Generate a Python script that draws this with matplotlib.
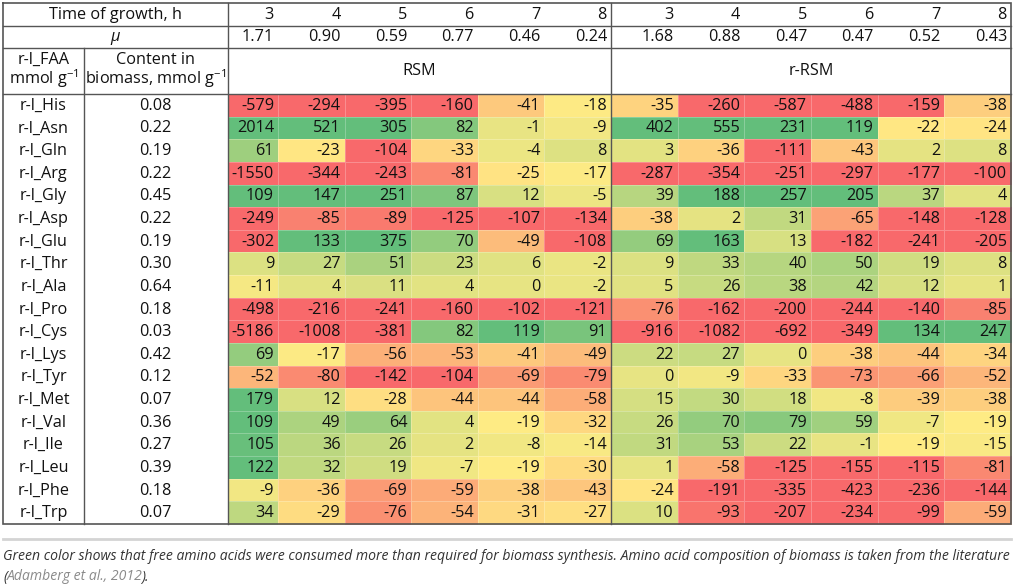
import numpy as np
import matplotlib
matplotlib.use("Agg")
import matplotlib.pyplot as plt
from matplotlib.colors import LinearSegmentedColormap, TwoSlopeNorm

# ---------------- data ----------------
hours = [3, 4, 5, 6, 7, 8]
mu_rsm = ["1.71", "0.90", "0.59", "0.77", "0.46", "0.24"]
mu_rrsm = ["1.68", "0.88", "0.47", "0.47", "0.52", "0.43"]
amino = ["His", "Asn", "Gln", "Arg", "Gly", "Asp", "Glu", "Thr", "Ala", "Pro",
         "Cys", "Lys", "Tyr", "Met", "Val", "Ile", "Leu", "Phe", "Trp"]
content = ["0.08", "0.22", "0.19", "0.22", "0.45", "0.22", "0.19", "0.30", "0.64", "0.18",
           "0.03", "0.42", "0.12", "0.07", "0.36", "0.27", "0.39", "0.18", "0.07"]
rsm = [
    [-579, -294, -395, -160, -41, -18],
    [2014, 521, 305, 82, -1, -9],
    [61, -23, -104, -33, -4, 8],
    [-1550, -344, -243, -81, -25, -17],
    [109, 147, 251, 87, 12, -5],
    [-249, -85, -89, -125, -107, -134],
    [-302, 133, 375, 70, -49, -108],
    [9, 27, 51, 23, 6, -2],
    [-11, 4, 11, 4, 0, -2],
    [-498, -216, -241, -160, -102, -121],
    [-5186, -1008, -381, 82, 119, 91],
    [69, -17, -56, -53, -41, -49],
    [-52, -80, -142, -104, -69, -79],
    [179, 12, -28, -44, -44, -58],
    [109, 49, 64, 4, -19, -32],
    [105, 36, 26, 2, -8, -14],
    [122, 32, 19, -7, -19, -30],
    [-9, -36, -69, -59, -38, -43],
    [34, -29, -76, -54, -31, -27],
]
rrsm = [
    [-35, -260, -587, -488, -159, -38],
    [402, 555, 231, 119, -22, -24],
    [3, -36, -111, -43, 2, 8],
    [-287, -354, -251, -297, -177, -100],
    [39, 188, 257, 205, 37, 4],
    [-38, 2, 31, -65, -148, -128],
    [69, 163, 13, -182, -241, -205],
    [9, 33, 40, 50, 19, 8],
    [5, 26, 38, 42, 12, 1],
    [-76, -162, -200, -244, -140, -85],
    [-916, -1082, -692, -349, 134, 247],
    [22, 27, 0, -38, -44, -34],
    [0, -9, -33, -73, -66, -52],
    [15, 30, 18, -8, -39, -38],
    [26, 70, 79, 59, -7, -19],
    [31, 53, 22, -1, -19, -15],
    [1, -58, -125, -155, -115, -81],
    [-24, -191, -335, -423, -236, -144],
    [10, -93, -207, -234, -99, -59],
]
caption1 = ("Green color shows that free amino acids were consumed more than required "
            "for biomass synthesis. Amino acid composition of biomass is taken from the literature")
caption_ref = "Adamberg et al., 2012"

# ---------------- layout ----------------
plt.rcParams['font.family'] = ['Open Sans', 'DejaVu Sans']
plt.rcParams['mathtext.fontset'] = 'custom'
plt.rcParams['mathtext.rm'] = 'Open Sans'
W, H = 1014, 587
fig = plt.figure(figsize=(W / 100, H / 100), dpi=100)
ax = fig.add_axes([0, 0, 1, 1])
ax.set_xlim(0, W)
ax.set_ylim(H, 0)
ax.axis('off')
renderer = fig.canvas.get_renderer()


def text_width(s, size, **kw):
    t = ax.text(0, 0, s, fontsize=size, **kw)
    w = t.get_window_extent(renderer).width
    t.remove()
    return w


FS = 10 * 133 / text_width("Time of growth, h", 10)
CFS = 10 * 1006 / text_width(caption1, 10, style='italic')

x_left, x_c1, x_c2, x_mid, x_right = 3, 84, 227.5, 611, 1011
first_w = 50.5
rsm_edges = [x_c2, x_c2 + first_w] + list(np.linspace(x_c2 + first_w, x_mid, 6)[1:])
rrsm_edges = list(np.linspace(x_mid, x_right, 7))
xedges = np.array(rsm_edges + rrsm_edges[1:])

y_top, y_r1, y_r2, y_r3, y_bot = 3, 25.5, 48, 94, 524
yedges = np.linspace(y_r3, y_bot, len(amino) + 1)

vals = np.hstack([np.array(rsm), np.array(rrsm)])
cmap = LinearSegmentedColormap.from_list("excel3", ["#F8696B", "#FFEB84", "#63BE7B"])
norm = TwoSlopeNorm(vmin=-100, vcenter=-20, vmax=110)
ax.pcolormesh(xedges, yedges, np.clip(vals, -100, 110), cmap=cmap, norm=norm,
              edgecolors=(1, 1, 1, 0.25), linewidth=0.5)

# numbers
xcent_right = xedges[1:] - 4
ycent = (yedges[:-1] + yedges[1:]) / 2
tc = '#111111'
for i in range(vals.shape[0]):
    for j in range(vals.shape[1]):
        ax.text(xcent_right[j], ycent[i] + 0.5, f"{vals[i, j]}", ha='right', va='center',
                fontsize=FS, color=tc)
    ax.text((x_left + x_c1) / 2, ycent[i] + 0.5, f"r-l_{amino[i]}", ha='center', va='center',
            fontsize=FS, color=tc)
    ax.text((x_c1 + x_c2) / 2, ycent[i] + 0.5, content[i], ha='center', va='center',
            fontsize=FS, color=tc)

# header rows
yc1 = (y_top + y_r1) / 2 + 0.5
yc2 = (y_r1 + y_r2) / 2 + 0.5
ax.text((x_left + x_c2) / 2, yc1, "Time of growth, h", ha='center', va='center', fontsize=FS,
        color=tc)
ax.text((x_left + x_c2) / 2, yc2, "μ", ha='center', va='center', fontsize=FS, style='italic',
        color=tc)
hdr_h = [str(h) for h in hours] * 2
hdr_mu = mu_rsm + mu_rrsm
for j in range(len(hdr_h)):
    ax.text(xcent_right[j], yc1, hdr_h[j], ha='right', va='center', fontsize=FS, color=tc)
    ax.text(xcent_right[j], yc2, hdr_mu[j], ha='right', va='center', fontsize=FS, color=tc)
yc3 = (y_r2 + y_r3) / 2
ax.text((x_left + x_c1) / 2, yc3, "r-l_FAA\nmmol g$^{\\mathregular{-1}}$", ha='center',
        va='center', fontsize=FS, linespacing=0.95, color=tc)
ax.text((x_c1 + x_c2) / 2, yc3, "Content in\nbiomass, mmol g$^{\\mathregular{-1}}$",
        ha='center', va='center', fontsize=FS, linespacing=0.95, color=tc)
ax.text((x_c2 + x_mid) / 2, yc3, "RSM", ha='center', va='center', fontsize=FS, color=tc)
ax.text((x_mid + x_right) / 2, yc3, "r-RSM", ha='center', va='center', fontsize=FS, color=tc)

# grid lines
lc = '#555555'
ax.plot([x_left, x_right, x_right, x_left, x_left], [y_top, y_top, y_bot, y_bot, y_top],
        color=lc, lw=1.2, solid_joinstyle='miter')
for y in (y_r1, y_r2, y_r3):
    ax.plot([x_left, x_right], [y, y], color=lc, lw=1.0)
ax.plot([x_c1, x_c1], [y_r2, y_bot], color=lc, lw=1.0)
for x in (x_c2, x_mid):
    ax.plot([x, x], [y_top, y_bot], color=lc, lw=1.0)

# caption
ax.plot([x_left, x_right], [539, 539], color='#d4d4d4', lw=2)
ax.text(x_left, 556, caption1, ha='left', va='center', fontsize=CFS, style='italic',
        color='#333333')
w_open = text_width("(", CFS, style='italic')
w_full = text_width("(" + caption_ref, CFS, style='italic')
ax.text(x_left, 577, "(", ha='left', va='center', fontsize=CFS, style='italic',
        color='#333333')
ax.text(x_left + w_open, 577, caption_ref, ha='left', va='center', fontsize=CFS,
        style='italic', color='#8a8a8a')
ax.text(x_left + w_full - 1.8, 577, ").", ha='left', va='center', fontsize=CFS,
        style='italic', color='#333333')

fig.savefig("out.png", dpi=100)
